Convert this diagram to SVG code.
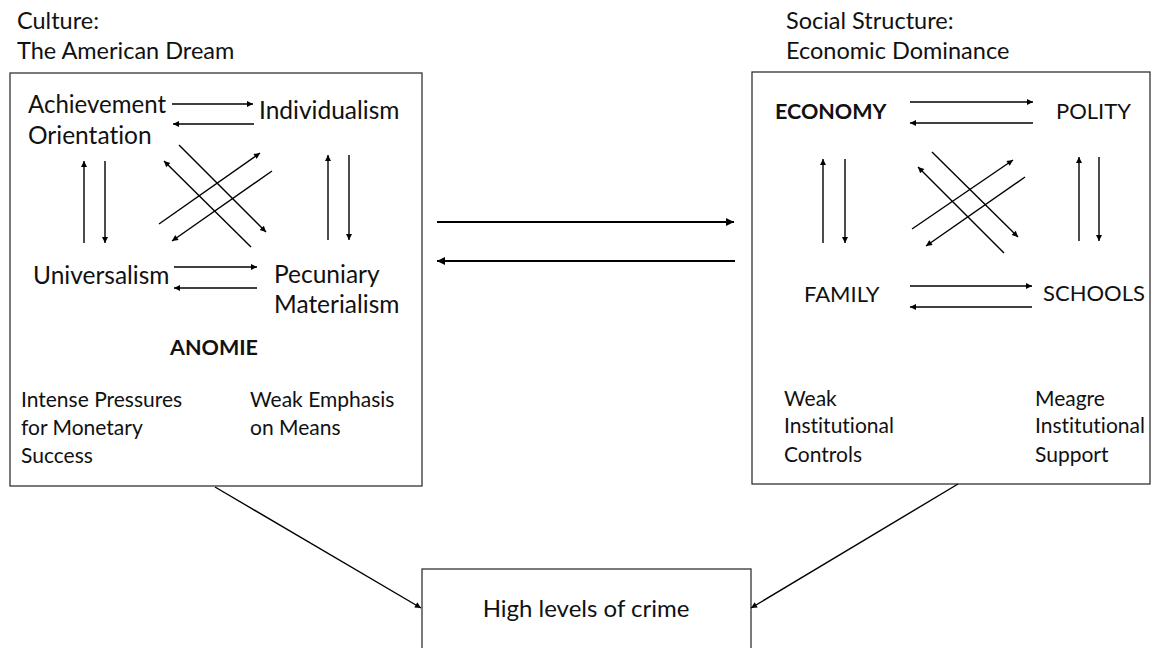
<svg xmlns="http://www.w3.org/2000/svg" width="1153" height="648" viewBox="0 0 1153 648">
  <defs>
    <marker id="head" viewBox="0 0 10 10" refX="10" refY="5" markerWidth="7" markerHeight="6" markerUnits="userSpaceOnUse" orient="auto">
      <path d="M0,0 L10,5 L0,10 z" fill="#000"/>
    </marker>
    <marker id="headBold" viewBox="0 0 10 10" refX="10" refY="5" markerWidth="9" markerHeight="8" markerUnits="userSpaceOnUse" orient="auto">
      <path d="M0,0 L10,5 L0,10 z" fill="#000"/>
    </marker>
  </defs>
  <style>
    text { font-family: Lato, "Open Sans", "Liberation Sans", sans-serif; fill: #111; font-variant-ligatures: none; font-feature-settings: "liga" 0; }
    .title { font-size: 23.5px; }
    .lbl { font-size: 24.5px; }
    .caps { font-size: 22px; }
    .bold { font-weight: bold; font-size: 21.5px; }
    .note { font-size: 21px; }
    .out { font-size: 24px; }
    .box { fill: #fff; stroke: #333; stroke-width: 1.3; }
    .arr { stroke: #000; stroke-width: 1.4; fill: none; marker-end: url(#head); }
    .big { stroke: #000; stroke-width: 2.2; fill: none; marker-end: url(#headBold); }
  </style>
  <rect width="1153" height="648" fill="#fff"/>

  <!-- culture block -->
  <g id="culture">
    <text class="title" x="17" y="29">Culture:</text>
    <text class="title" x="17" y="59">The American Dream</text>
    <rect class="box" x="10" y="73" width="412" height="413"/>
    <text class="lbl" x="28" y="113" textLength="138" lengthAdjust="spacingAndGlyphs">Achievement</text>
    <text class="lbl" x="28" y="144">Orientation</text>
    <text class="lbl" x="259" y="119">Individualism</text>
    <text class="lbl" x="33" y="284">Universalism</text>
    <text class="lbl" x="274" y="283">Pecuniary</text>
    <text class="lbl" x="274" y="313">Materialism</text>
    <text class="bold" x="214" y="355" text-anchor="middle">ANOMIE</text>
    <text class="note" x="21" y="407">Intense Pressures</text>
    <text class="note" x="21" y="435">for Monetary</text>
    <text class="note" x="21" y="463">Success</text>
    <text class="note" x="250" y="407">Weak Emphasis</text>
    <text class="note" x="250" y="435">on Means</text>
  </g>

  <!-- social structure block -->
  <g id="social-structure">
    <text class="title" x="786" y="29">Social Structure:</text>
    <text class="title" x="786" y="59">Economic Dominance</text>
    <rect class="box" x="752" y="72" width="398" height="412"/>
    <text class="bold" x="775" y="119">ECONOMY</text>
    <text class="caps" x="1056" y="119">POLITY</text>
    <text class="caps" x="804" y="302">FAMILY</text>
    <text class="caps" x="1043" y="301">SCHOOLS</text>
    <text class="note" x="784" y="406">Weak</text>
    <text class="note" x="784" y="433">Institutional</text>
    <text class="note" x="784" y="462">Controls</text>
    <text class="note" x="1035" y="406">Meagre</text>
    <text class="note" x="1035" y="433">Institutional</text>
    <text class="note" x="1035" y="462">Support</text>
  </g>

  <!-- outcome -->
  <g id="crime">
    <rect class="box" x="422" y="569" width="329" height="90"/>
    <text class="out" x="586" y="617" text-anchor="middle">High levels of crime</text>
  </g>

  <g id="connectors">
    <!-- culture internal links -->
    <line class="arr" x1="172" y1="104" x2="253" y2="104"/>
    <line class="arr" x1="254" y1="124" x2="173" y2="124"/>
    <line class="arr" x1="84" y1="243" x2="84" y2="161"/>
    <line class="arr" x1="105" y1="161" x2="105" y2="243"/>
    <line class="arr" x1="328" y1="240" x2="328" y2="155"/>
    <line class="arr" x1="349" y1="155" x2="349" y2="240"/>
    <line class="arr" x1="179" y1="145" x2="266" y2="232"/>
    <line class="arr" x1="251" y1="247" x2="164" y2="161"/>
    <line class="arr" x1="159" y1="224" x2="260" y2="153"/>
    <line class="arr" x1="272" y1="171" x2="172" y2="241"/>
    <line class="arr" x1="174" y1="267" x2="257" y2="267"/>
    <line class="arr" x1="257" y1="288" x2="174" y2="288"/>

    <!-- social structure internal links -->
    <line class="arr" x1="910" y1="102" x2="1033" y2="102"/>
    <line class="arr" x1="1033" y1="123" x2="910" y2="123"/>
    <line class="arr" x1="823" y1="243" x2="823" y2="159"/>
    <line class="arr" x1="845" y1="159" x2="845" y2="243"/>
    <line class="arr" x1="1079" y1="241" x2="1079" y2="157"/>
    <line class="arr" x1="1099" y1="157" x2="1099" y2="241"/>
    <line class="arr" x1="932" y1="152" x2="1018" y2="237"/>
    <line class="arr" x1="1004" y1="253" x2="918" y2="167"/>
    <line class="arr" x1="912" y1="229" x2="1013" y2="160"/>
    <line class="arr" x1="1025" y1="177" x2="926" y2="246"/>
    <line class="arr" x1="910" y1="286" x2="1032" y2="286"/>
    <line class="arr" x1="1032" y1="307" x2="910" y2="307"/>

    <!-- links between the two blocks -->
    <line class="big" x1="437" y1="222" x2="734" y2="222"/>
    <line class="big" x1="735" y1="261" x2="437" y2="261"/>

    <!-- links to outcome -->
    <line class="arr" x1="215" y1="487" x2="421" y2="608"/>
    <line class="arr" x1="958" y1="484" x2="751" y2="608"/>
  </g>
</svg>
